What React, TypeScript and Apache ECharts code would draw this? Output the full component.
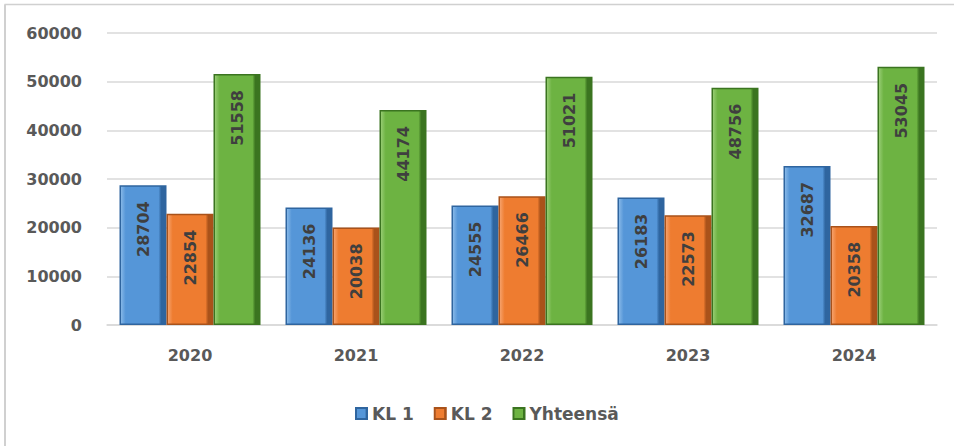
import React, { useEffect, useRef } from "react";
import * as echarts from "echarts";

const categories = ["2020", "2021", "2022", "2023", "2024"];
const kl1 = [28704, 24136, 24555, 26183, 32687];
const kl2 = [22854, 20038, 26466, 22573, 20358];
const total = [51558, 44174, 51021, 48756, 53045];
const seriesNames = ["KL 1", "KL 2", "Yhteensä"];
const yTicks = { min: 0, max: 60000, interval: 10000 };

const FONT = "'DejaVu Sans', 'Open Sans', sans-serif";

function grad(light: string, base: string, dark: string) {
  return new echarts.graphic.LinearGradient(0, 0, 1, 0, [
    { offset: 0, color: light },
    { offset: 0.12, color: base },
    { offset: 0.84, color: base },
    { offset: 0.9, color: dark },
    { offset: 1, color: dark },
  ]);
}

export default function App() {
  const ref = useRef<HTMLDivElement>(null);
  useEffect(() => {
    if (!ref.current) return;
    const chart = echarts.init(ref.current, undefined, { renderer: "svg" });
    const palette = [
      { light: "#8dbce9", base: "#5596d8", dark: "#2f659f" },
      { light: "#f7a673", base: "#ee7c30", dark: "#a9521a" },
      { light: "#9ccf79", base: "#6db342", dark: "#3b7420" },
    ];
    const data = [kl1, kl2, total];
    chart.setOption({
      animation: false,
      backgroundColor: "#ffffff",
      textStyle: { fontFamily: FONT },
      grid: { left: 107, right: 17, top: 33, bottom: 121, containLabel: false },
      legend: {
        left: 350,
        top: 400,
        itemWidth: 11,
        itemHeight: 11,
        itemGap: 20,
        icon: "rect",
        textStyle: { fontFamily: FONT, fontSize: 17, fontWeight: "bold", color: "#595959" },
        data: seriesNames,
      },
      xAxis: {
        type: "category",
        data: categories,
        axisLine: { show: true, lineStyle: { color: "#d9d9d9", width: 1.5 } },
        axisTick: { show: false },
        axisLabel: { fontFamily: FONT, fontSize: 16, fontWeight: "bold", color: "#595959", margin: 22 },
      },
      yAxis: {
        type: "value",
        min: yTicks.min,
        max: yTicks.max,
        interval: yTicks.interval,
        axisLine: { show: false },
        axisTick: { show: false },
        splitLine: { lineStyle: { color: "#d9d9d9", width: 1.5 } },
        axisLabel: {
          fontFamily: FONT,
          fontSize: 16,
          fontWeight: "bold",
          color: "#595959",
          margin: 25,
          formatter: (v: number) => String(v),
        },
      },
      graphic: [
        { type: "line", shape: { x1: 4.5, y1: 4.5, x2: 954, y2: 4.5 }, style: { stroke: "#d0d0d0", lineWidth: 1.5 } },
        { type: "line", shape: { x1: 5, y1: 4.5, x2: 5, y2: 446 }, style: { stroke: "#d0d0d0", lineWidth: 2 } },
      ],
      series: seriesNames.map((name, i) => ({
        name,
        type: "bar",
        data: data[i],
        barWidth: 47,
        barGap: "0%",
        itemStyle: {
          color: grad(palette[i].light, palette[i].base, palette[i].dark),
          borderColor: palette[i].dark,
          borderWidth: 1.5,
        },
        label: {
          show: true,
          position: "insideTop",
          distance: 16,
          rotate: 90,
          align: "right",
          verticalAlign: "middle",
          fontFamily: FONT,
          fontSize: 16,
          fontWeight: "bold",
          color: "#3f3f3f",
        },
      })),
    });
    return () => chart.dispose();
  }, []);
  return <div ref={ref} style={{ position: "fixed", left: 0, top: 0, width: 954, height: 446 }} />;
}
